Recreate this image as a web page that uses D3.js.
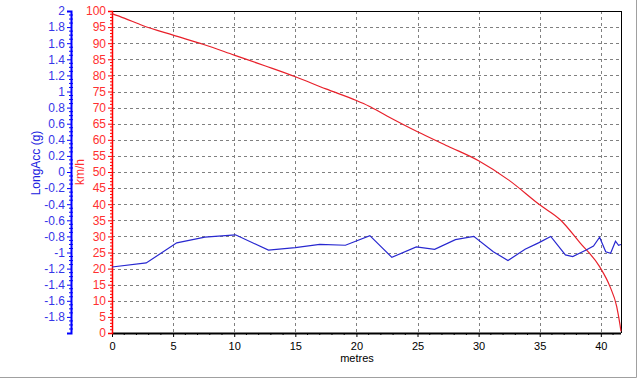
<!DOCTYPE html>
<html>
<head>
<meta charset="utf-8">
<script src="https://cdn.jsdelivr.net/npm/d3@7"></script>
<style>
  body { margin: 0; background: #fff; }
  text { font-family: "Liberation Sans", Arial, sans-serif; }
</style>
</head>
<body>
<div id="chart"></div>
<script>
// distance in metres vs speed (km/h) and longitudinal accel (g)
const speedDist = [0, 1, 2.5, 5, 7.5, 10, 12.5, 15, 17.5, 20, 21, 22.5, 25, 27.5, 30, 32.5, 35, 36.7, 38.3, 39.9, 40.75, 41.3, 41.57, 41.65];
const speedKmh = [99.2, 97.8, 95.5, 92.5, 89.6, 86.3, 83.0, 79.6, 75.8, 72.2, 70.5, 67.4, 62.5, 58.0, 53.5, 47.4, 39.8, 35.1, 28.0, 20.6, 14.4, 8.2, 2.5, 0.5];

const accDist = [0, 2.8, 5.3, 7.6, 10.1, 12.8, 15.0, 17.0, 19.1, 21.1, 22.9, 24.9, 26.4, 28.1, 29.6, 31.2, 32.4, 33.8, 34.9, 35.9, 37.1, 37.7, 38.8, 39.4, 39.9, 40.4, 40.8, 41.2, 41.45, 41.65];
const accG = [-1.18, -1.13, -0.88, -0.81, -0.78, -0.97, -0.94, -0.90, -0.91, -0.79, -1.06, -0.93, -0.96, -0.84, -0.80, -0.99, -1.10, -0.96, -0.88, -0.80, -1.03, -1.05, -0.97, -0.92, -0.81, -0.99, -1.01, -0.86, -0.91, -0.90];

const xTicks = [0, 5, 10, 15, 20, 25, 30, 35, 40];
const kmhTicks = d3.range(0, 101, 5);
const gTicks = [2, 1.8, 1.6, 1.4, 1.2, 1, 0.8, 0.6, 0.4, 0.2, 0, -0.2, -0.4, -0.6, -0.8, -1, -1.2, -1.4, -1.6, -1.8];

const W = 640, H = 379;
const plotL = 112, plotR = 621, plotT = 11, plotB = 333;

const svg = d3.select('#chart').append('svg')
    .attr('width', W)
    .attr('height', H);

const x = d3.scaleLinear().domain([0, 41.65]).range([plotL, plotR]);
const yK = d3.scaleLinear().domain([0, 100]).range([plotB, plotT]);
const yG = d3.scaleLinear().domain([-2, 2]).range([plotB, plotT]);

// outer frame (only right/bottom visible)
svg.append('path')
    .attr('d', `M${W - 3.5},0 V${H - 1.5} H0`)
    .attr('fill', 'none')
    .attr('stroke', '#a0a0a0');

// grid
const grid = svg.append('g')
    .attr('stroke', '#808080')
    .attr('stroke-dasharray', '3,3')
    .attr('shape-rendering', 'crispEdges');
grid.selectAll('.vg')
    .data(xTicks.filter(d => d > 0))
    .enter().append('line')
    .attr('x1', d => Math.round(x(d)) + 0.5).attr('x2', d => Math.round(x(d)) + 0.5)
    .attr('y1', plotT).attr('y2', plotB);
grid.selectAll('.hg')
    .data(kmhTicks.filter(d => d > 0 && d < 100))
    .enter().append('line')
    .attr('x1', plotL).attr('x2', plotR)
    .attr('y1', d => Math.round(yK(d)) + 0.5).attr('y2', d => Math.round(yK(d)) + 0.5);

// frame top/right
svg.append('path')
    .attr('d', `M${plotL},${plotT + 0.5} H${plotR + 0.5} V${plotB}`)
    .attr('fill', 'none')
    .attr('stroke', '#000')
    .attr('shape-rendering', 'crispEdges');

// x axis
const xAxis = d3.axisBottom(x).tickValues(xTicks).tickSize(4).tickFormat(d3.format('d'));
const gx = svg.append('g')
    .attr('transform', `translate(0,${plotB})`)
    .call(xAxis);
gx.select('.domain').attr('stroke-width', 2).attr('d', `M${plotL},0.5H${plotR}`);
gx.selectAll('text').attr('font-size', 11).attr('fill', '#000').attr('dy', '0.9em');
gx.selectAll('.minor')
    .data(d3.range(0, 42, 1).filter(d => d % 5 !== 0))
    .enter().append('line')
    .attr('x1', d => x(d)).attr('x2', d => x(d))
    .attr('y1', 0).attr('y2', 2)
    .attr('stroke', '#000');
svg.append('text')
    .attr('x', 357).attr('y', 362)
    .attr('text-anchor', 'middle')
    .attr('font-size', 11)
    .text('metres');

// km/h axis (red)
const red = '#ff0000';
const kAxis = d3.axisLeft(yK).tickValues(kmhTicks).tickSize(4);
const gk = svg.append('g')
    .attr('transform', `translate(${plotL},0)`)
    .call(kAxis);
gk.select('.domain').attr('stroke', red).attr('stroke-width', 1.5);
gk.selectAll('.tick line').attr('stroke', red);
gk.selectAll('text').attr('fill', '#ff3030').attr('font-size', 12).attr('x', -6);
gk.selectAll('.minor')
    .data(d3.range(0, 100, 1).filter(d => d % 5 !== 0))
    .enter().append('line')
    .attr('x1', -2).attr('x2', 1)
    .attr('y1', d => yK(d)).attr('y2', d => yK(d))
    .attr('stroke', red);
svg.append('text')
    .attr('transform', 'translate(84,172) rotate(-90)')
    .attr('text-anchor', 'middle')
    .attr('font-size', 12)
    .attr('fill', '#ff3030')
    .text('km/h');

// LongAcc axis (blue)
const blue = '#0000ff';
const gAxis = d3.axisLeft(yG).tickValues(gTicks).tickSize(4).tickFormat(d => String(d));
const gg = svg.append('g')
    .attr('transform', `translate(71,0)`)
    .call(gAxis);
gg.select('.domain').attr('stroke', blue).attr('stroke-width', 2);
gg.selectAll('.tick line').attr('stroke', blue);
gg.selectAll('text').attr('fill', '#3535e8').attr('font-size', 12).attr('x', -6);
gg.selectAll('.minor')
    .data(d3.range(-40, 40, 1).filter(d => d % 4 !== 0).map(d => d / 20))
    .enter().append('line')
    .attr('x1', -2).attr('x2', 2)
    .attr('y1', d => yG(d)).attr('y2', d => yG(d))
    .attr('stroke', blue);
svg.append('text')
    .attr('transform', 'translate(40,163) rotate(-90)')
    .attr('text-anchor', 'middle')
    .attr('font-size', 12)
    .attr('fill', '#2020e0')
    .text('LongAcc (g)');

// series
const speedData = speedDist.map((d, i) => ({m: d, v: speedKmh[i]}));
const accData = accDist.map((d, i) => ({m: d, v: accG[i]}));

svg.append('path')
    .datum(speedData)
    .attr('fill', 'none')
    .attr('stroke', '#e8202a')
    .attr('stroke-width', 1.2)
    .attr('d', d3.line().x(d => x(d.m)).y(d => yK(d.v)).curve(d3.curveMonotoneX));

svg.append('path')
    .datum(accData)
    .attr('fill', 'none')
    .attr('stroke', '#2828d0')
    .attr('stroke-width', 1.2)
    .attr('d', d3.line().x(d => x(d.m)).y(d => yG(d.v)));
</script>
</body>
</html>
